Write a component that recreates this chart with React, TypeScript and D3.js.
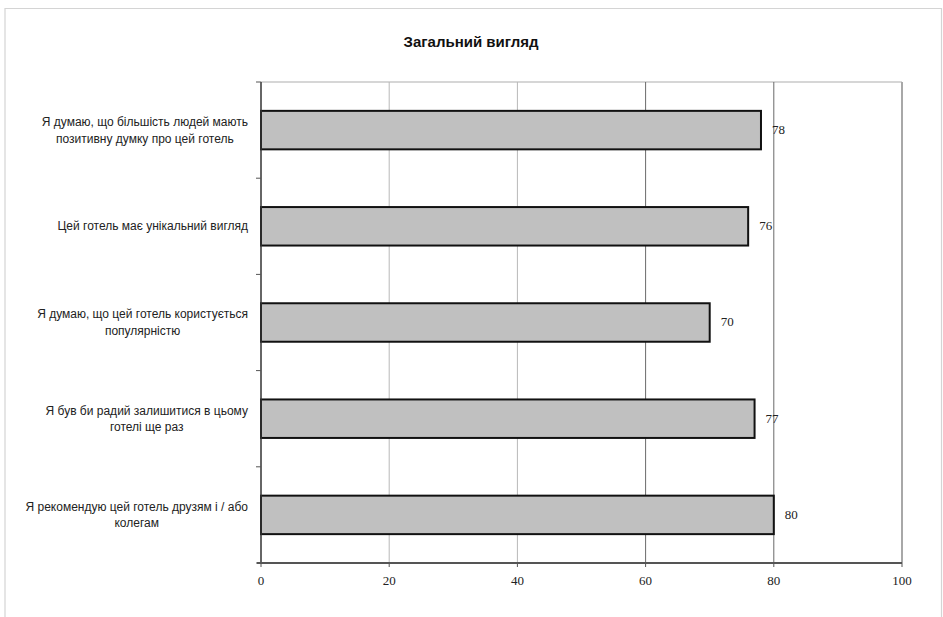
import React, { useEffect, useRef } from "react";
import * as d3 from "d3";

const title = "Загальний вигляд";
const categories = [
  "Я думаю, що більшість людей мають\nпозитивну думку про цей готель",
  "Цей готель має унікальний вигляд",
  "Я думаю, що цей готель користується\nпопулярністю",
  "Я був би радий залишитися в цьому\nготелі ще раз",
  "Я рекомендую цей готель друзям і / або\nколегам",
];
const values = [78, 76, 70, 77, 80];
const xTicks = [0, 20, 40, 60, 80, 100];

const W = 943;
const H = 617;
const plot = { left: 261, right: 902, top: 82, bottom: 563 };

export default function App() {
  const ref = useRef<SVGGElement>(null);

  const x = d3.scaleLinear().domain([0, 100]).range([plot.left, plot.right]);
  const y = d3
    .scaleBand<number>()
    .domain(d3.range(categories.length))
    .range([plot.top, plot.bottom])
    .paddingInner(0.6)
    .paddingOuter(0.3);
  const band = (plot.bottom - plot.top) / categories.length;

  // Category labels: wrapped lines centred inside a block that is right-aligned to the axis
  useEffect(() => {
    const g = d3.select(ref.current);
    g.selectAll("*").remove();
    categories.forEach((cat, i) => {
      const lines = cat.split("\n");
      const cy = plot.top + band * i + band / 2 + 1;
      const grp = g.append("g");
      const texts = lines.map((line, j) =>
        grp
          .append("text")
          .attr("y", cy + (j - (lines.length - 1) / 2) * 16.5)
          .attr("dominant-baseline", "middle")
          .attr("text-anchor", "middle")
          .attr("font-family", "'Liberation Sans', Arial, sans-serif")
          .attr("font-size", 12)
          .attr("fill", "#222")
          .text(line)
      );
      const widths = texts.map((t) => (t.node() as SVGTextElement).getComputedTextLength());
      const blockW = Math.max(...widths);
      const right = 248;
      texts.forEach((t) => t.attr("x", right - blockW / 2));
    });
  }, []);

  const gridColor = (v: number) => (v === 0 ? "none" : v <= 40 ? "#b8b8b8" : "#6a6a6a");

  return (
    <svg
      width={W}
      height={H}
      style={{ position: "absolute", left: 0, top: 0, background: "#fff" }}
    >
      {/* chart frame */}
      <path d={`M5,${H + 2} V8.5 H941.5 V${H + 2}`} fill="none" stroke="#d4d4d4" strokeWidth={1.2} />

      <text
        x={471}
        y={43}
        textAnchor="middle"
        dominantBaseline="middle"
        fontFamily="'Liberation Sans', Arial, sans-serif"
        fontWeight="bold"
        fontSize={15}
        fill="#111"
      >
        {title}
      </text>

      {/* plot area top edge */}
      <line x1={plot.left} x2={plot.right} y1={plot.top} y2={plot.top} stroke="#c8c8c8" strokeWidth={1.5} />

      {/* vertical gridlines */}
      {xTicks.map((t) => (
        <line
          key={`g${t}`}
          x1={x(t)}
          x2={x(t)}
          y1={plot.top}
          y2={plot.bottom}
          stroke={t === 100 ? "#a8a8a8" : gridColor(t)}
          strokeWidth={t === 100 ? 2 : 1}
        />
      ))}

      {/* bars */}
      {values.map((v, i) => (
        <rect
          key={`b${i}`}
          x={x(0)}
          y={y(i)!}
          width={x(v) - x(0)}
          height={y.bandwidth()}
          fill="#c0c0c0"
          stroke="#111"
          strokeWidth={2}
        />
      ))}

      {/* value labels */}
      {values.map((v, i) => (
        <text
          key={`v${i}`}
          x={x(v) + 11}
          y={y(i)! + y.bandwidth() / 2 + 1}
          dominantBaseline="middle"
          fontFamily="'Liberation Serif', 'Times New Roman', serif"
          fontSize={13}
          fill="#222"
        >
          {v}
        </text>
      ))}

      {/* category axis */}
      <line x1={plot.left} x2={plot.left} y1={plot.top} y2={plot.bottom} stroke="#333" strokeWidth={1.5} />
      {d3.range(categories.length + 1).map((k) => (
        <line
          key={`ct${k}`}
          x1={plot.left - 5}
          x2={plot.left}
          y1={plot.top + band * k}
          y2={plot.top + band * k}
          stroke="#555"
          strokeWidth={1}
        />
      ))}

      {/* value axis */}
      <line x1={plot.left - 4} x2={plot.right} y1={plot.bottom} y2={plot.bottom} stroke="#555" strokeWidth={2} />
      {xTicks.map((t) => (
        <g key={`t${t}`}>
          <line x1={x(t)} x2={x(t)} y1={plot.bottom} y2={plot.bottom + 4} stroke="#555" strokeWidth={1} />
          <text
            x={x(t)}
            y={plot.bottom + 19}
            textAnchor="middle"
            dominantBaseline="middle"
            fontFamily="'Liberation Serif', 'Times New Roman', serif"
            fontSize={13}
            fill="#222"
          >
            {t}
          </text>
        </g>
      ))}

      <g ref={ref} />
    </svg>
  );
}
